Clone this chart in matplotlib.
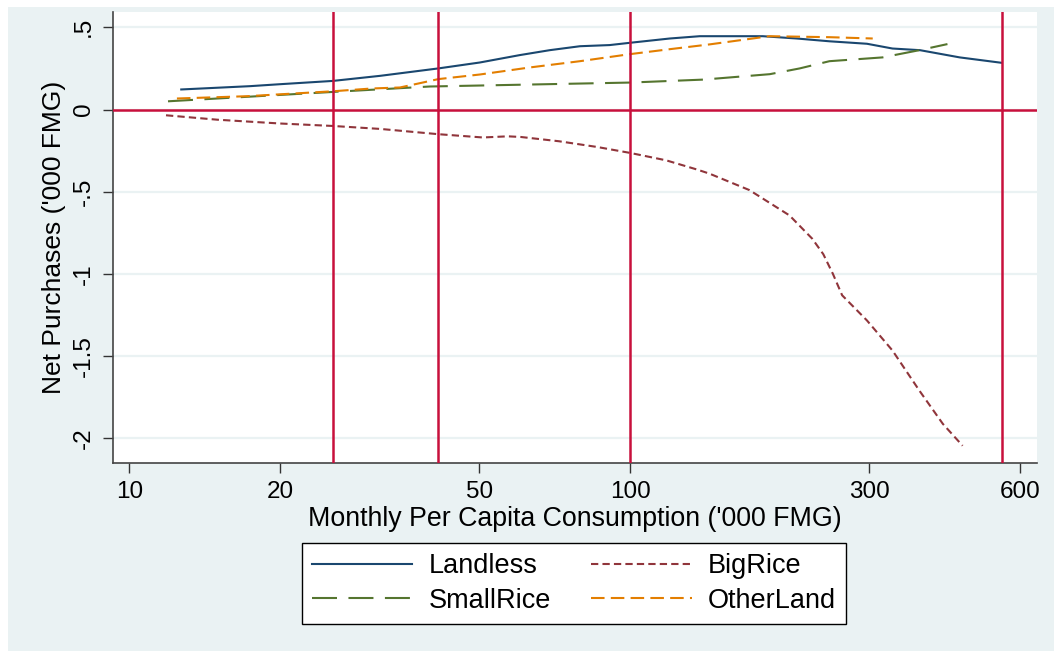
import matplotlib
matplotlib.use('Agg')
import matplotlib.pyplot as plt
from matplotlib.patches import Rectangle

# данные (x - потребление, '000 FMG; y - чистые покупки)
landless_x = [12.7, 17.4, 20, 25.5, 31.7, 41.4, 50.1, 60.2, 69.1, 79.4, 91.0, 100,
              120, 137.7, 184, 215, 250, 297, 334, 379, 455, 552]
landless_y = [0.122, 0.142, 0.154, 0.174, 0.205, 0.25, 0.286, 0.331, 0.361, 0.385, 0.392, 0.406,
              0.432, 0.446, 0.446, 0.432, 0.415, 0.40, 0.371, 0.361, 0.317, 0.284]

bigrice_x = [11.84, 15, 20, 25.5, 31.7, 41.4, 50.8, 57, 60.5, 72.1, 86, 100, 118, 136,
             144, 173, 208, 231, 243, 254, 265, 297, 334, 378, 421, 461]
bigrice_y = [-0.035, -0.062, -0.085, -0.1, -0.118, -0.15, -0.17, -0.163, -0.167, -0.193, -0.228,
             -0.264, -0.309, -0.365, -0.39, -0.49, -0.644, -0.786, -0.88, -1.0, -1.13, -1.283,
             -1.466, -1.71, -1.912, -2.045]

smallrice_x = [11.95, 25.5, 39.8, 63.1, 100, 140, 190, 218, 250, 319, 378, 430]
smallrice_y = [0.05, 0.107, 0.14, 0.152, 0.164, 0.182, 0.215, 0.25, 0.294, 0.317, 0.361, 0.398]

otherland_x = [12.45, 17.2, 25.5, 30.5, 34.7, 38, 41.4, 50.1, 63.1, 79.4, 100, 120, 144,
               181.5, 190, 250, 305]
otherland_y = [0.067, 0.081, 0.111, 0.128, 0.134, 0.16, 0.185, 0.213, 0.256, 0.294, 0.337,
               0.367, 0.396, 0.438, 0.446, 0.44, 0.432]

vlines = [25.5, 41.4, 100, 552]
xticks = [10, 20, 50, 100, 300, 600]
yticks = [0.5, 0, -0.5, -1, -1.5, -2]
ytick_labels = ['.5', '0', '-.5', '-1', '-1.5', '-2']

# цвета в духе stata s2color
navy = '#1a476f'
maroon = '#90353b'
green = '#55752f'
orange = '#e37e00'
red = '#c8103c'
bg = '#eaf2f3'

plt.rcParams['font.family'] = ['Liberation Sans', 'DejaVu Sans']

fig = plt.figure(figsize=(10.54, 6.51), dpi=100, facecolor='white')
# светлый фон области графика (под осями)
fig.add_artist(Rectangle((8 / 1054, 0), 1, 1 - 7 / 651, transform=fig.transFigure,
                         facecolor=bg, edgecolor='none', zorder=-10))

ax = fig.add_axes([113 / 1054, 1 - 463 / 651, (1037 - 113) / 1054, (463 - 11.7) / 651])
ax.set_facecolor('white')
ax.set_xscale('log')
ax.set_xlim(9.28, 649)
ax.set_ylim(-2.15, 0.595)

# сетка по y
for yv in yticks:
    ax.axhline(yv, color=bg, lw=1.6, zorder=1)

l1, = ax.plot(landless_x, landless_y, color=navy, lw=1.5, label='Landless', zorder=3)
l2, = ax.plot(bigrice_x, bigrice_y, color=maroon, lw=1.5, dashes=(3.5, 2), label='BigRice', zorder=3)
l3, = ax.plot(smallrice_x, smallrice_y, color=green, lw=1.5, dashes=(12, 5.5), label='SmallRice', zorder=3)
l4, = ax.plot(otherland_x, otherland_y, color=orange, lw=1.5, dashes=(6.5, 3), label='OtherLand', zorder=3)

for xv in vlines:
    ax.axvline(xv, color=red, lw=1.8, zorder=4)
ax.axhline(0, color=red, lw=1.8, zorder=4)

ax.set_xticks(xticks)
ax.set_xticklabels([str(t) for t in xticks])
ax.xaxis.set_minor_locator(matplotlib.ticker.NullLocator())
ax.set_yticks(yticks)
ax.set_yticklabels(ytick_labels, rotation=90, va='center')
ax.tick_params(axis='both', labelsize=17.5, length=7, width=1, color='#333333', pad=6)

for side in ['top', 'right']:
    ax.spines[side].set_visible(False)
for side in ['left', 'bottom']:
    ax.spines[side].set_color('#444444')
    ax.spines[side].set_linewidth(1.2)

ax.set_xlabel("Monthly Per Capita Consumption ('000 FMG)", fontsize=19.3, labelpad=2)
ax.set_ylabel("Net Purchases ('000 FMG)", fontsize=19, labelpad=5)

# порядок для ncol=2: первая колонка Landless/SmallRice, вторая BigRice/OtherLand
leg = fig.legend([l1, l3, l2, l4], ['Landless', 'SmallRice', 'BigRice', 'OtherLand'],
                 loc='center', bbox_to_anchor=(574 / 1054, 1 - 583.5 / 651),
                 ncol=2, fontsize=19.5, handlelength=3.7, columnspacing=1.5, handletextpad=0.6,
                 borderpad=0.38, labelspacing=0.3, fancybox=False, frameon=True, framealpha=1)
leg.get_frame().set_edgecolor('black')
leg.get_frame().set_linewidth(1.0)
leg.get_frame().set_facecolor('white')

fig.savefig('out.png', dpi=100, facecolor=fig.get_facecolor())
